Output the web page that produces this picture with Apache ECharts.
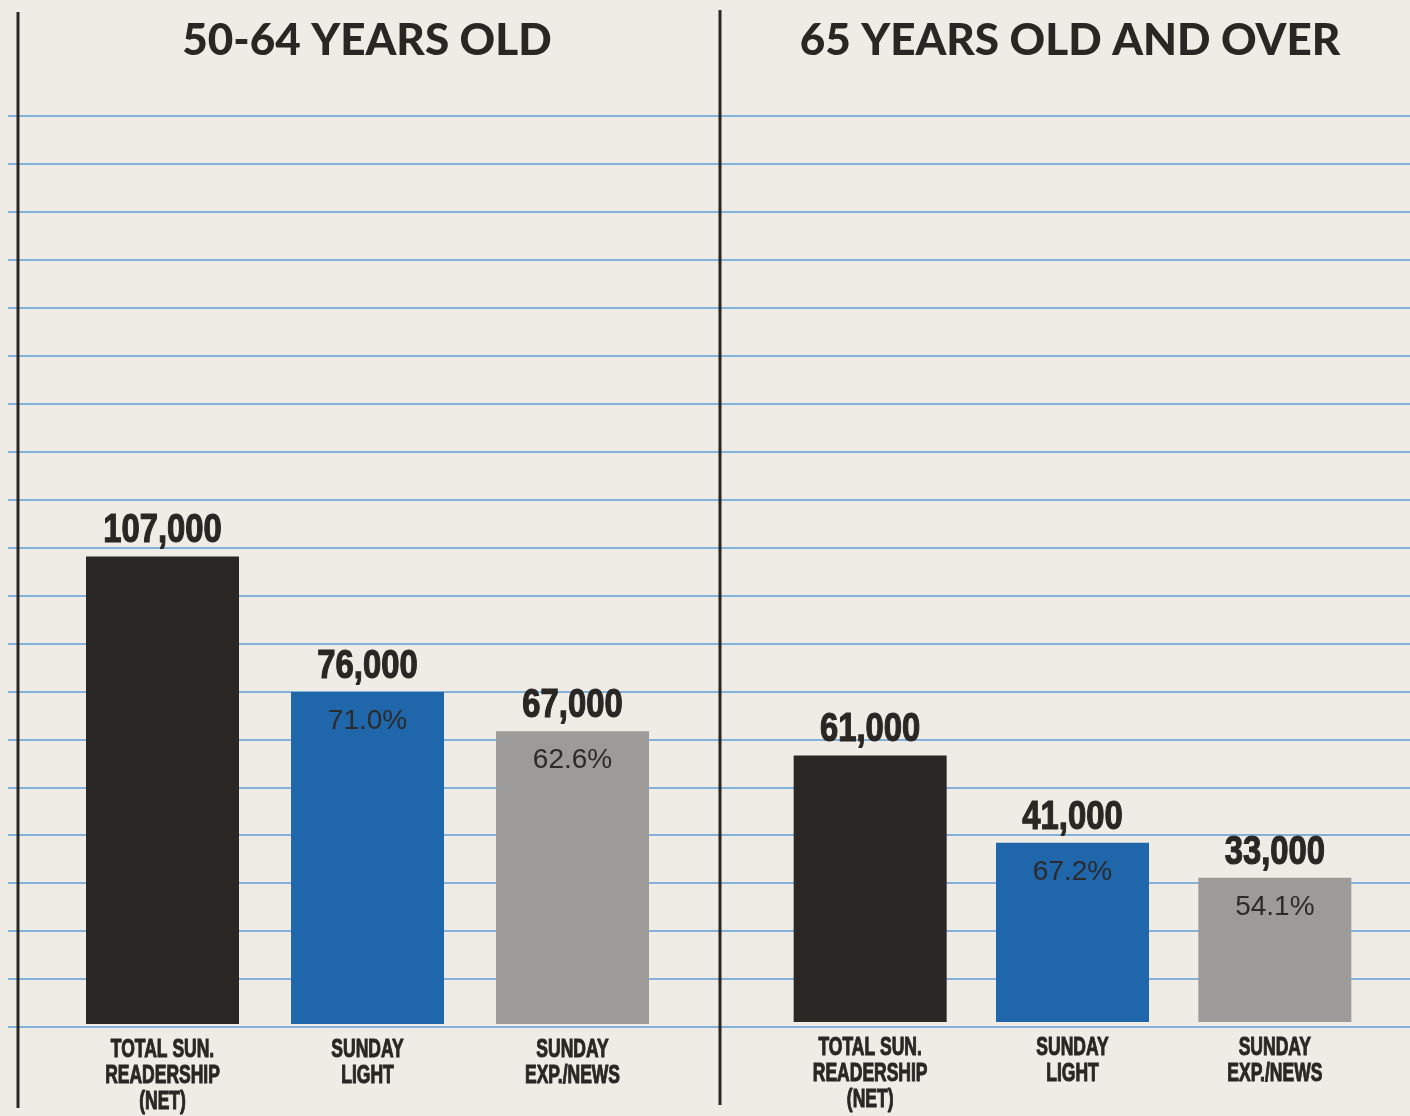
<!DOCTYPE html>
<html>
<head>
<meta charset="utf-8">
<script src="https://cdn.jsdelivr.net/npm/echarts@6/dist/echarts.min.js"></script>
<style>
html,body{margin:0;padding:0;background:#efece5;}
#chart{width:1410px;height:1116px;}
</style>
</head>
<body>
<div id="chart"></div>
<script>
const categories = ['TOTAL SUN.\nREADERSHIP\n(NET)', 'SUNDAY\nLIGHT', 'SUNDAY\nEXP./NEWS'];
const panelTitles = ['50-64 YEARS OLD', '65 YEARS OLD AND OVER'];
const readers5064 = [107000, 76000, 67000];
const pct5064 = ['', '71.0%', '62.6%'];
const readers65 = [61000, 41000, 33000];
const pct65 = ['', '67.2%', '54.1%'];
const barColors = ['#2b2725', '#1f66ab', '#9d9b99'];
const ruleMax = 19;

const ink = '#2a2624';
const boldFont = "bold 41px 'Liberation Sans', Arial, sans-serif";
const catFont = "bold 25px 'Liberation Sans', Arial, sans-serif";

function fmt(v) { return v.toLocaleString('en-US'); }

function textEl(x, y, text, font, scaleX, vAlign, lineHeight, strokeW) {
  return {
    type: 'text', x: x, y: y, scaleX: scaleX,
    style: {
      text: text, font: font,
      fill: ink, textFill: ink,
      stroke: ink, textStroke: ink,
      lineWidth: strokeW, textStrokeWidth: strokeW,
      align: 'center', textAlign: 'center',
      verticalAlign: vAlign, textVerticalAlign: vAlign,
      lineHeight: lineHeight, textLineHeight: lineHeight
    }
  };
}

function panelSeries(gi, values, pcts) {
  return [
    {
      type: 'bar', xAxisIndex: gi, yAxisIndex: gi,
      barWidth: 153, barGap: '-100%',
      data: values.map((v, i) => ({ value: v, itemStyle: { color: barColors[i] } })),
      label: {
        show: true, position: 'insideTop', distance: 15,
        fontFamily: "'Liberation Sans', Arial, sans-serif", fontSize: 28, color: '#2b2b2b',
        formatter: p => pcts[p.dataIndex]
      },
      silent: true
    },
    {
      // value labels above the bars
      type: 'custom', xAxisIndex: gi, yAxisIndex: gi,
      data: values.map((v, i) => [i, v]),
      renderItem: (params, api) => {
        const p = api.coord([api.value(0), api.value(1)]);
        return textEl(p[0], p[1] - 5, fmt(api.value(1)), boldFont, 0.8, 'bottom', 41, 1.2);
      },
      silent: true, z: 5
    },
    {
      // category labels under the baseline
      type: 'custom', xAxisIndex: gi, yAxisIndex: gi,
      data: categories.map((c, i) => [i, 0]),
      renderItem: (params, api) => {
        const p = api.coord([api.value(0), api.value(1)]);
        return textEl(p[0], p[1] + 13, categories[params.dataIndex], catFont, 0.7, 'top', 26, 1);
      },
      silent: true, z: 5
    }
  ];
}

const catAxis = (gi) => ({
  type: 'category', gridIndex: gi, data: categories,
  axisLine: { show: false }, axisTick: { show: false }, axisLabel: { show: false }
});
const valAxis = (gi) => ({
  type: 'value', gridIndex: gi, min: 0, max: 200000,
  show: false, splitLine: { show: false }
});

const chart = echarts.init(document.getElementById('chart'));
chart.setOption({
  backgroundColor: '#efece5',
  animation: false,
  title: [
    { text: panelTitles[0], left: 362, top: 14, textAlign: 'center',
      textStyle: { fontFamily: 'Lato', fontWeight: 900, fontSize: 44, color: ink } },
    { text: panelTitles[1], left: 1065, top: 14, textAlign: 'center',
      textStyle: { fontFamily: 'Lato', fontWeight: 900, fontSize: 44, color: ink } }
  ],
  grid: [
    { left: 8, right: 0, top: 116, bottom: 89 },
    { left: 60, width: 615, top: 150, bottom: 92 },
    { left: 769, width: 607, top: 148, bottom: 94 }
  ],
  xAxis: [
    { type: 'value', gridIndex: 0, min: 0, max: 1, show: false },
    catAxis(1),
    catAxis(2)
  ],
  yAxis: [
    { type: 'value', gridIndex: 0, min: 0, max: ruleMax, interval: 1,
      axisLine: { show: false }, axisTick: { show: false }, axisLabel: { show: false },
      splitLine: { show: true, lineStyle: { color: '#82b2da', width: 2 } } },
    valAxis(1),
    valAxis(2)
  ],
  graphic: [
    { type: 'line', shape: { x1: 18, y1: 12, x2: 18, y2: 1108 }, style: { stroke: ink, lineWidth: 3 }, z: 10 },
    { type: 'line', shape: { x1: 720, y1: 10, x2: 720, y2: 1105 }, style: { stroke: ink, lineWidth: 3 }, z: 10 }
  ],
  series: [
    { type: 'line', xAxisIndex: 0, yAxisIndex: 0, data: [], silent: true },
    ...panelSeries(1, readers5064, pct5064),
    ...panelSeries(2, readers65, pct65)
  ]
});
</script>
</body>
</html>
